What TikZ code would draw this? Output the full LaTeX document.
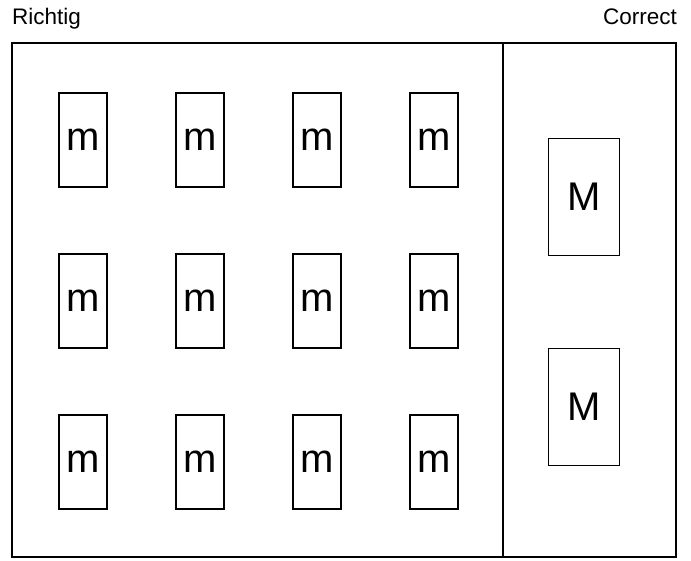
\documentclass[tikz,border=0pt]{standalone}
\usepackage{fontspec}
\setmainfont{Liberation Sans}
\tikzset{
  frame/.style={draw=black,line width=2.6pt},
  mbox/.style={draw=black,line width=1.3pt,minimum width=48pt,minimum height=94pt,inner sep=0pt,font=\fontsize{40}{40}\selectfont},
  Mbox/.style={draw=black,line width=1.3pt,minimum width=71pt,minimum height=117pt,inner sep=0pt,font=\fontsize{40}{40}\selectfont},
  lbl/.style={inner sep=0pt,font=\fontsize{22.5}{22.5}\selectfont}
}

\begin{document}
\begin{tikzpicture}[x=1pt,y=-1pt]
  \useasboundingbox (0,0) rectangle (691,560);
  \node[lbl,anchor=base west] (richtig) at (12,24) {Richtig};
  \node[lbl,anchor=base east] (correct) at (677,24) {Correct};
  \draw[frame] (12,43) rectangle (676,557);
  \draw[frame] (503,43) -- (503,557);
  \foreach \r/\yy in {1/140,2/301,3/462}
    \foreach \c/\xx in {1/83,2/200,3/317,4/434}
      \node[mbox] (m-\r-\c) at (\xx,\yy) {m};
  \node[Mbox] (M-1) at (584,197) {M};
  \node[Mbox] (M-2) at (584,407) {M};
\end{tikzpicture}
\end{document}
